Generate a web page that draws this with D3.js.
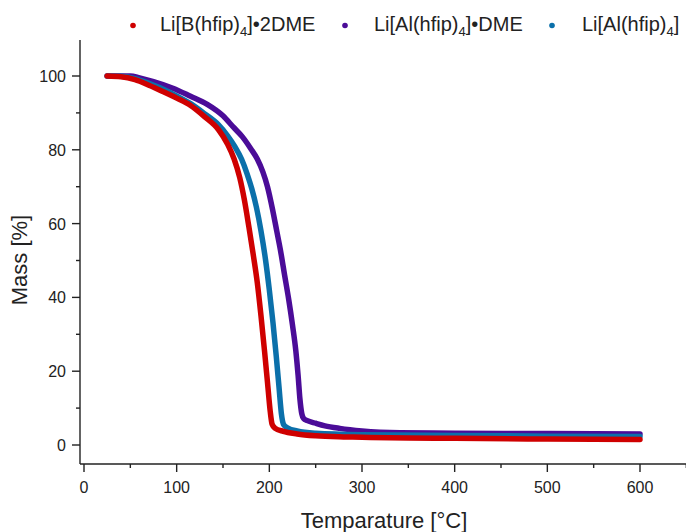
<!DOCTYPE html>
<html><head><meta charset="utf-8">
<script src="https://cdn.jsdelivr.net/npm/d3@7"></script>
<style>
body{margin:0;background:#fff;}
text{font-family:"Liberation Sans",Arial,sans-serif;fill:#222;}
</style></head>
<body>
<svg id="c" width="686" height="532"></svg>
<script>
const seriesNames = ["Li[B(hfip)4]•2DME", "Li[Al(hfip)4]•DME", "Li[Al(hfip)4]"];
const seriesColors = ["#cf0000", "#4b0c98", "#0b70aa"];

const tempB2DME = [25,40,55,70,85,100,115,130,145,155,162,168,173,178,183,187,191,195,198,201,203,206,215,230,250,280,300,350,400,500,600];
const massB2DME = [100,99.8,99,97.5,95.8,94,92,89,85.5,81.5,77.5,72.5,66.5,59,51,44,35,25,17,9,5.6,4.6,3.7,3,2.5,2.2,2.1,1.9,1.8,1.6,1.5];

const tempAlDME = [25,40,50,60,75,96,115,133,150,161,171,180,187,193,198,203.5,208,212,216.5,221,225,228.6,231,233,235,237,241,250,260,276,300,341,400,500,600];
const massAlDME = [100,100,100,99.5,98.5,96.7,94.5,92.3,89.2,86.2,83.5,80.3,77.5,74,70,63.8,58,52.8,46,39.3,32.5,25.5,19,12.5,8.5,7.2,6.6,5.9,5.2,4.5,3.8,3.3,3.2,3.1,3];

const tempAl = [25,40,55,70,85,100,115,130,145,155,163,170,176,181,186,191,196,200,204,207.5,210.5,213,215.5,220,230,250,300,400,500,600];
const massAl = [100,99.9,99.3,98,96.5,94.6,92.5,89.8,86.8,83.8,80.8,77.5,73.5,69.5,64.5,58,50,42,33,24,15.5,8.5,5.5,4.6,3.8,3.2,2.8,2.6,2.4,2.3];

const xTicks = [0,100,200,300,400,500,600];
const xMinor = [50,150,250,350,450,550,650];
const yTicks = [0,20,40,60,80,100];
const yMinor = [10,30,50,70,90];

const svg = d3.select("#c");
const x = d3.scaleLinear().domain([0,600]).range([84,640]);
const y = d3.scaleLinear().domain([0,100]).range([445,76]);
const xLeft = x.invert(80), xRight = x.invert(686);
const yBottom = y.invert(464), yTop = y.invert(40);

const series = [
  {name:seriesNames[1], color:seriesColors[1], t:tempAlDME, m:massAlDME},
  {name:seriesNames[2], color:seriesColors[2], t:tempAl, m:massAl},
  {name:seriesNames[0], color:seriesColors[0], t:tempB2DME, m:massB2DME}
];
const line = d3.line().x(d=>x(d[0])).y(d=>y(d[1])).curve(d3.curveMonotoneX);
series.forEach(s=>{
  svg.append("path").datum(s.t.map((t,i)=>[t,s.m[i]]))
    .attr("d",line).attr("fill","none").attr("stroke",s.color)
    .attr("stroke-width",5.5).attr("stroke-linecap","round").attr("stroke-linejoin","round");
});

// axes
const ax = svg.append("g").attr("stroke","#222").attr("stroke-width",1.4);
ax.append("line").attr("x1",x(xLeft)).attr("x2",x(xRight)).attr("y1",y(yBottom)).attr("y2",y(yBottom));
ax.append("line").attr("x1",x(xLeft)).attr("x2",x(xLeft)).attr("y1",y(yBottom)).attr("y2",y(yTop));
const yb = y(yBottom), xl = x(xLeft);
xTicks.forEach(v=>ax.append("line").attr("x1",x(v)).attr("x2",x(v)).attr("y1",yb).attr("y2",yb+8));
xMinor.forEach(v=>ax.append("line").attr("x1",x(v)).attr("x2",x(v)).attr("y1",yb).attr("y2",yb+4));
yTicks.forEach(v=>ax.append("line").attr("x1",xl-8).attr("x2",xl).attr("y1",y(v)).attr("y2",y(v)));
yMinor.forEach(v=>ax.append("line").attr("x1",xl-4).attr("x2",xl).attr("y1",y(v)).attr("y2",y(v)));

xTicks.forEach(v=>svg.append("text").attr("x",x(v)).attr("y",yb+29).attr("text-anchor","middle").attr("font-size",16).text(v));
yTicks.forEach(v=>svg.append("text").attr("x",xl-14).attr("y",y(v)+6).attr("text-anchor","end").attr("font-size",16).text(v));

svg.append("text").attr("x",384).attr("y",528).attr("text-anchor","middle").attr("font-size",22).text("Temparature [°C]");
svg.append("text").attr("transform","translate(27,260) rotate(-90)").attr("text-anchor","middle").attr("font-size",22).text("Mass [%]");

// legend
const legend = [
  {dx:133, tx:160, color:seriesColors[0], parts:[["Li[B(hfip)",0],["4",1],["]•2DME",0]]},
  {dx:345, tx:374, color:seriesColors[1], parts:[["Li[Al(hfip)",0],["4",1],["]•DME",0]]},
  {dx:552, tx:582, color:seriesColors[2], parts:[["Li[Al(hfip)",0],["4",1],["]",0]]}
];
legend.forEach(l=>{
  svg.append("circle").attr("cx",l.dx).attr("cy",25.5).attr("r",2.8).attr("fill",l.color);
  const t = svg.append("text").attr("x",l.tx).attr("y",31).attr("font-size",20);
  l.parts.forEach((p,i)=>{
    const ts = t.append("tspan").text(p[0]);
    if(p[1]){ ts.attr("font-size",13).attr("dy",5); }
    else { ts.attr("font-size",20); if(i>0 && l.parts[i-1][1]) ts.attr("dy",-5); }
  });
});
</script>
</body></html>
